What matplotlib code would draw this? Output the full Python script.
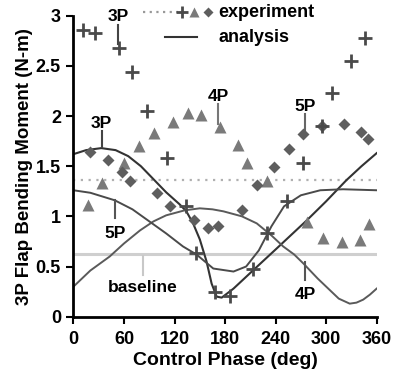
import matplotlib
matplotlib.use('Agg')
import matplotlib.pyplot as plt

# experiment: 3P (crosses), 4P (triangles), 5P (diamonds)
phase_3p = [11.6, 25.5, 54, 70, 87, 110.7, 133.6, 146, 168, 186, 213.5, 229.5, 253, 273, 295, 306.7, 330, 346]
moment_3p = [2.86, 2.83, 2.68, 2.44, 2.05, 1.585, 1.10, 0.63, 0.25, 0.21, 0.48, 0.83, 1.15, 1.53, 1.90, 2.23, 2.55, 2.78]

phase_4p = [17.6, 34, 60.3, 77.8, 96, 118, 136, 151.4, 174, 195, 206.4, 230, 277, 296, 318.5, 340, 351]
moment_4p = [1.11, 1.33, 1.535, 1.70, 1.83, 1.94, 2.03, 2.01, 1.89, 1.71, 1.535, 1.35, 0.94, 0.78, 0.74, 0.76, 0.92]

phase_5p = [19.6, 41.3, 57, 67, 99.5, 114.6, 143, 160, 172, 200, 217.6, 238.5, 256, 272, 295, 321, 341, 350]
moment_5p = [1.645, 1.56, 1.445, 1.355, 1.23, 1.10, 0.96, 0.88, 0.90, 1.06, 1.31, 1.49, 1.67, 1.82, 1.90, 1.92, 1.845, 1.77]

# analysis curves
ana_3p_phase = [0, 15, 33, 50, 65, 80, 95, 110, 126, 134, 142, 150, 158, 164, 170, 176, 190, 213, 240, 277, 300, 324, 342, 360]
ana_3p = [1.62, 1.66, 1.68, 1.66, 1.60, 1.50, 1.37, 1.24, 1.12, 1.05, 0.93, 0.77, 0.55, 0.33, 0.20, 0.19, 0.28, 0.46, 0.67, 0.96, 1.15, 1.36, 1.50, 1.63]

ana_4p_phase = [0, 20, 43, 60, 79, 95, 110, 132, 150, 165, 178, 200, 217.6, 235, 249, 262, 273, 290, 300, 315, 328, 336, 344, 352, 360]
ana_4p = [0.30, 0.46, 0.60, 0.73, 0.86, 0.95, 1.01, 1.06, 1.08, 1.07, 1.05, 1.00, 0.93, 0.81, 0.70, 0.62, 0.53, 0.38, 0.30, 0.18, 0.13, 0.14, 0.17, 0.22, 0.28]

ana_5p_phase = [0, 20, 49, 70, 90, 110, 130, 146, 166, 190, 205, 220, 235, 250, 270, 293, 320, 360]
ana_5p = [1.26, 1.235, 1.16, 1.07, 0.95, 0.83, 0.70, 0.62, 0.48, 0.45, 0.50, 0.66, 0.90, 1.10, 1.21, 1.26, 1.27, 1.26]

baseline_exp = 1.36
baseline_ana = 0.62

plt.rcParams['font.family'] = ['Liberation Sans', 'DejaVu Sans']
plt.rcParams['font.weight'] = 'bold'
plt.rcParams['font.size'] = 12

fig = plt.figure(figsize=(3.96, 3.75), dpi=100)
ax = fig.add_axes([0.1856, 0.1555, 0.7656, 0.8027])

ax.axhline(baseline_ana, color='#cfcfcf', lw=2.2, zorder=1)
ax.axhline(baseline_exp, color='#b0b0b0', lw=1.6, ls=(0, (1, 2.5)), zorder=1)

ax.plot(ana_3p_phase, ana_3p, color='#333333', lw=1.5, zorder=2)
ax.plot(ana_4p_phase, ana_4p, color='#5a5a5a', lw=1.4, zorder=2)
ax.plot(ana_5p_phase, ana_5p, color='#4a4a4a', lw=1.4, zorder=2)

ax.plot(phase_4p, moment_4p, '^', color='#7a7a7a', ms=8.5, mec='none', zorder=3)
ax.plot(phase_5p, moment_5p, 'D', color='#5e5e5e', ms=6.5, mec='none', zorder=3)
ax.plot(phase_3p, moment_3p, '+', color='#4a4a4a', ms=9.5, mew=2, zorder=4)

# labels with leader lines
def tag(x, y_text, y0, y1, s, c):
    ax.plot([x, x], [y0, y1], color=c, lw=1.5, zorder=2)
    ax.text(x, y_text, s, ha='center', va='center', fontsize=12.5, fontweight='bold')

tag(53, 2.99, 2.91, 2.72, '3P', '#444444')
tag(33.5, 1.93, 1.85, 1.69, '3P', '#444444')
tag(172, 2.19, 2.12, 1.92, '4P', '#777777')
tag(275, 2.09, 2.02, 1.84, '5P', '#666666')
tag(49, 0.83, 1.16, 0.98, '5P', '#555555')
tag(275, 0.22, 0.55, 0.37, '4P', '#555555')
tag(82, 0.29, 0.60, 0.42, 'baseline', '#c8c8c8')

# legend drawn by hand
tr = ax.transAxes
ax.plot([0.229, 0.345], [1.012, 1.012], color='#999999', lw=1.6, ls=(0, (1, 2)), transform=tr, clip_on=False)
ax.plot([0.358], [1.012], '+', color='#4a4a4a', ms=8, mew=2, transform=tr, clip_on=False)
ax.plot([0.397], [1.012], '^', color='#7a7a7a', ms=7, mec='none', transform=tr, clip_on=False)
ax.plot([0.444], [1.012], 'D', color='#5e5e5e', ms=5.5, mec='none', transform=tr, clip_on=False)
ax.text(0.477, 1.012, 'experiment', transform=tr, ha='left', va='center', fontsize=13, fontweight='bold')
ax.plot([0.302, 0.407], [0.929, 0.929], color='#333333', lw=1.5, transform=tr, clip_on=False)
ax.text(0.477, 0.929, 'analysis', transform=tr, ha='left', va='center', fontsize=13, fontweight='bold')

ax.set_xlim(0, 360)
ax.set_ylim(0, 3)
ax.set_xticks([0, 60, 120, 180, 240, 300, 360])
ax.set_yticks([0, 0.5, 1, 1.5, 2, 2.5, 3])
ax.set_yticklabels(['0', '0.5', '1', '1.5', '2', '2.5', '3'])
ax.spines['top'].set_visible(False)
ax.spines['right'].set_visible(False)
ax.spines['left'].set_linewidth(2)
ax.spines['bottom'].set_linewidth(2)
ax.tick_params(direction='out', length=5, width=1.5, labelsize=13)
ax.tick_params(axis='x', pad=5)
ax.tick_params(axis='y', pad=4)
ax.set_xlabel('Control Phase (deg)', fontsize=14, fontweight='bold', labelpad=3)
ax.set_ylabel('3P Flap Bending Moment (N-m)', fontsize=13.5, fontweight='bold', labelpad=2)

fig.savefig('out.png', dpi=100)
